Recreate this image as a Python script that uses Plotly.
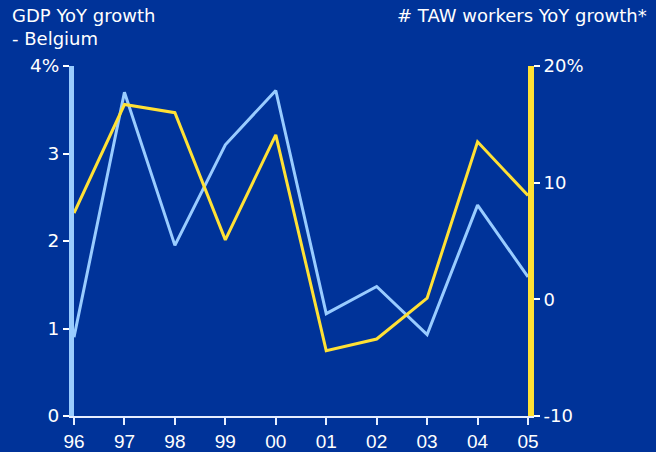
import plotly.graph_objects as go

years = ["96", "97", "98", "99", "00", "01", "02", "03", "04", "05"]
gdp_growth = [0.9, 3.7, 1.95, 3.1, 3.72, 1.17, 1.48, 0.93, 2.41, 1.59]
taw_growth = [7.4, 16.7, 16.0, 5.1, 14.1, -4.4, -3.4, 0.1, 13.5, 8.9]
left_ticks = [0, 1, 2, 3, 4]
left_labels = ["0", "1", "2", "3", "4%"]
right_ticks = [-10, 0, 10, 20]
right_labels = ["-10", "0", "10", "20%"]

BG = "#003399"
BLUE = "#99CCFF"
YELLOW = "#FFE135"
FONT = "DejaVu Sans"
TICKFONT = "Liberation Sans"

x = list(range(len(years)))

fig = go.Figure()
fig.add_trace(go.Scatter(x=x, y=gdp_growth, mode="lines",
                         line=dict(color=BLUE, width=3), yaxis="y", showlegend=False))
fig.add_trace(go.Scatter(x=x, y=taw_growth, mode="lines",
                         line=dict(color=YELLOW, width=3), yaxis="y2", showlegend=False))

PW, PH = 454, 350
fig.update_layout(
    width=656, height=452,
    paper_bgcolor=BG, plot_bgcolor=BG,
    margin=dict(l=74, r=128, t=66, b=36),
    font=dict(family=TICKFONT, color="white", size=17),
    xaxis=dict(range=[0, 9], tickmode="array", tickvals=x, ticktext=years,
               showgrid=False, zeroline=False, showline=True, linecolor="#E6EEFF",
               linewidth=2, ticks="outside", ticklen=7, tickcolor="#E6EEFF",
               tickwidth=2, ticklabelstandoff=0, automargin=False,
               tickfont=dict(size=19)),
    yaxis=dict(range=[0, 4], tickmode="array", tickvals=left_ticks, ticktext=left_labels,
               showgrid=False, zeroline=False, showline=True, linecolor=BLUE,
               linewidth=5, ticks="outside", ticklen=6, tickcolor="white",
               tickwidth=2, automargin=False, tickfont=dict(size=18.5, family=FONT)),
    yaxis2=dict(range=[-10, 20], tickmode="array", tickvals=right_ticks, ticktext=right_labels,
                overlaying="y", side="right", showgrid=False, zeroline=False,
                showline=True, linecolor=YELLOW, linewidth=6, ticks="outside",
                ticklen=6, tickcolor="white", tickwidth=2, automargin=False,
                tickfont=dict(size=18, family=FONT)),
    annotations=[
        dict(text="GDP YoY growth<br>- Belgium", xref="paper", yref="paper",
             x=-64/PW, y=1 + 63/PH, xanchor="left", yanchor="top", align="left",
             showarrow=False, font=dict(size=18, color="white", family=FONT)),
        dict(text="# TAW workers YoY growth*", xref="paper", yref="paper",
             x=(649-74)/PW, y=1 + 63/PH, xanchor="right", yanchor="top", align="right",
             showarrow=False, font=dict(size=18, color="white", family=FONT)),
    ],
)

fig.write_html("out.html", config={"displayModeBar": False},
               post_script="document.body.style.margin='0';")
